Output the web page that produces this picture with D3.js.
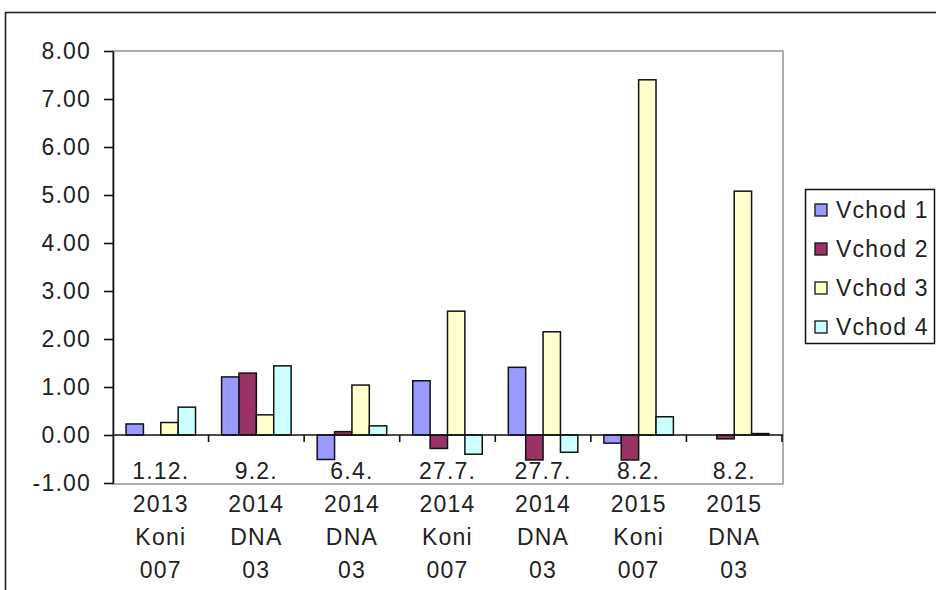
<!DOCTYPE html>
<html>
<head>
<meta charset="utf-8">
<script src="https://cdn.jsdelivr.net/npm/d3@7"></script>
<style>
  html, body { margin: 0; padding: 0; background: #fff; }
  svg { display: block; }
  text { font-family: "Liberation Sans", Arial, sans-serif; fill: #222; }
</style>
</head>
<body>
<svg id="chart" width="936" height="590"></svg>
<script>
// Measurement dates, years and instruments for each group of bars
const dates = ["1.12.", "9.2.", "6.4.", "27.7.", "27.7.", "8.2.", "8.2."];
const years = ["2013", "2014", "2014", "2014", "2014", "2015", "2015"];
const instruments = ["Koni", "DNA", "DNA", "Koni", "DNA", "Koni", "DNA"];
const instrumentNos = ["007", "03", "03", "007", "03", "007", "03"];

// Series
const seriesNames = ["Vchod 1", "Vchod 2", "Vchod 3", "Vchod 4"];
const vchod1 = [0.23, 1.21, -0.51, 1.13, 1.41, -0.17, 0];
const vchod2 = [0, 1.29, 0.07, -0.28, -0.52, -0.52, -0.08];
const vchod3 = [0.26, 0.42, 1.04, 2.58, 2.15, 7.40, 5.08];
const vchod4 = [0.58, 1.44, 0.19, -0.40, -0.36, 0.38, 0.03];
const seriesColors = ["#9999FF", "#993366", "#FFFFCC", "#CCFFFF"];

// Y axis ticks
const yTicks = [-1, 0, 1, 2, 3, 4, 5, 6, 7, 8];

const categories = dates.map((d, i) => i);
const seriesValues = [vchod1, vchod2, vchod3, vchod4];

const FONT_SIZE = "23px";
const LETTER_SPACING = "1.2px";

const svg = d3.select("#chart");

// Outer chart frame
svg.append("rect")
  .attr("x", 5.5).attr("y", 12.5)
  .attr("width", 960).attr("height", 600)
  .attr("fill", "#fff")
  .attr("stroke", "#222").attr("stroke-width", 1.6);

const plot = { left: 113, right: 782, top: 51, bottom: 483 };

const y = d3.scaleLinear()
  .domain([-1, 8])
  .range([plot.bottom, plot.top]);

const x0 = d3.scaleBand()
  .domain(categories)
  .range([plot.left, plot.right])
  .padding(0);

// gap between groups is 150% of one bar width
const bw = x0.bandwidth();
const gap = bw * 1.5 / 5.5;
const x1 = d3.scaleBand()
  .domain(d3.range(seriesNames.length))
  .range([gap / 2, bw - gap / 2])
  .padding(0);

// Plot area frame
svg.append("rect")
  .attr("x", plot.left).attr("y", plot.top)
  .attr("width", plot.right - plot.left + 1)
  .attr("height", plot.bottom - plot.top + 1)
  .attr("fill", "none")
  .attr("stroke", "#9a9a9a").attr("stroke-width", 1.6);

// Bars
const groups = svg.append("g").selectAll("g")
  .data(categories)
  .join("g")
  .attr("transform", c => `translate(${x0(c)},0)`);

groups.selectAll("rect")
  .data(c => seriesValues.map((vals, s) => ({ s, v: vals[c] })))
  .join("rect")
  .filter(d => d.v !== 0)
  .attr("x", d => x1(d.s))
  .attr("width", x1.bandwidth())
  .attr("y", d => Math.min(y(d.v), y(0)))
  .attr("height", d => Math.abs(y(d.v) - y(0)))
  .attr("fill", d => seriesColors[d.s])
  .attr("stroke", "#111")
  .attr("stroke-width", 1.5);

// Y axis (plain hyphen for negatives)
const fmt = d3.format(".2f");
const yAxis = svg.append("g")
  .attr("transform", `translate(${plot.left},0)`)
  .call(d3.axisLeft(y)
    .tickValues(yTicks)
    .tickFormat(d => fmt(d).replace("\u2212", "-"))
    .tickSize(9)
    .tickSizeOuter(0)
    .tickPadding(13));
yAxis.select(".domain").attr("stroke", "#111").attr("stroke-width", 1.6);
yAxis.selectAll(".tick line").attr("stroke", "#111").attr("stroke-width", 1.6);
yAxis.selectAll(".tick text")
  .style("font-size", FONT_SIZE)
  .style("letter-spacing", LETTER_SPACING)
  .attr("fill", "#222");

// X axis along zero, with ticks between the groups
const xAxis = svg.append("g");
xAxis.append("line")
  .attr("x1", plot.left).attr("x2", plot.right + 1)
  .attr("y1", y(0)).attr("y2", y(0))
  .attr("stroke", "#111").attr("stroke-width", 1.6);
const boundaries = categories.map(c => x0(c)).concat([x0.range()[1]]);
xAxis.selectAll("line.tick")
  .data(boundaries.slice(1))
  .join("line")
  .attr("class", "tick")
  .attr("x1", d => d).attr("x2", d => d)
  .attr("y1", y(0)).attr("y2", y(0) + 7)
  .attr("stroke", "#111").attr("stroke-width", 1.6);

// Category labels
const labelBaselines = [479, 512, 545, 578];
const labels = svg.append("g").selectAll("text")
  .data(categories)
  .join("text")
  .attr("text-anchor", "middle")
  .style("font-size", FONT_SIZE)
  .style("letter-spacing", LETTER_SPACING);
labels.each(function (c) {
  const lines = [dates[c], years[c], instruments[c], instrumentNos[c]];
  const t = d3.select(this);
  lines.forEach((ln, k) => {
    t.append("tspan")
      .attr("x", x0(c) + bw / 2)
      .attr("y", labelBaselines[k])
      .text(ln);
  });
});

// Legend
const legend = svg.append("g");
legend.append("rect")
  .attr("x", 805.5).attr("y", 189.5)
  .attr("width", 129).attr("height", 154)
  .attr("fill", "#fff")
  .attr("stroke", "#111").attr("stroke-width", 1.5);
const items = legend.selectAll("g.item")
  .data(seriesNames)
  .join("g")
  .attr("class", "item")
  .attr("transform", (d, i) => `translate(0,${218 + i * 39})`);
items.append("rect")
  .attr("x", 815).attr("y", -14)
  .attr("width", 12).attr("height", 12)
  .attr("fill", (d, i) => seriesColors[i])
  .attr("stroke", "#111").attr("stroke-width", 1.3);
items.append("text")
  .attr("x", 836).attr("y", 0)
  .style("font-size", FONT_SIZE)
  .style("letter-spacing", LETTER_SPACING)
  .text(d => d);
</script>
</body>
</html>
